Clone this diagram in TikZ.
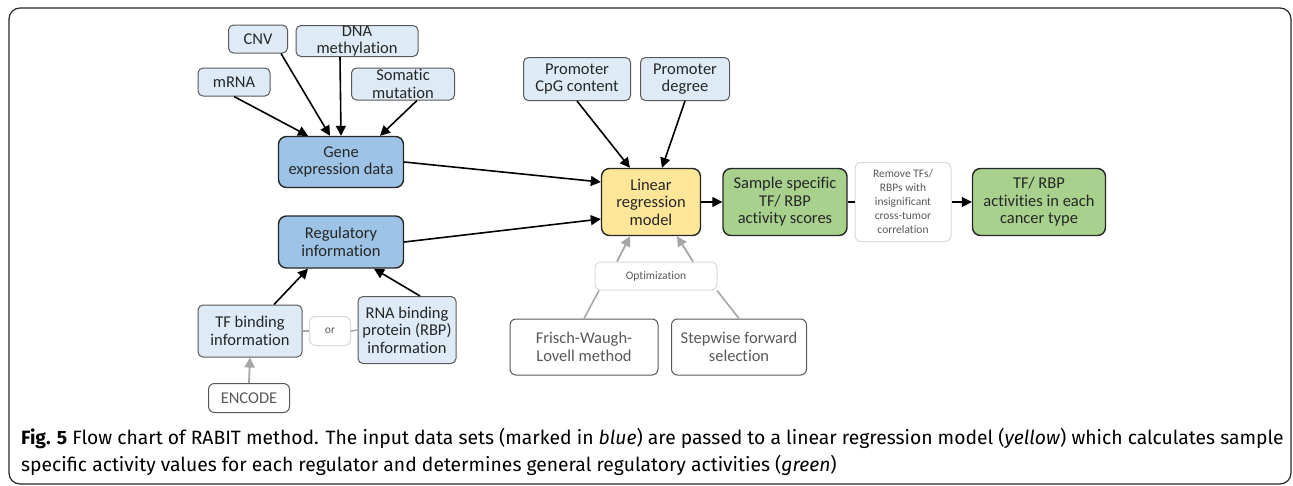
\documentclass[tikz,border=0pt]{standalone}
\usepackage{fontspec}
\setmainfont[Ligatures={NoCommon,TeX}]{Carlito}
\newfontfamily\captionfont{Fira Sans}
\usetikzlibrary{arrows.meta,calc}

\definecolor{edgedark}{HTML}{262626}
\definecolor{edgemid}{HTML}{595959}
\definecolor{edgefaint}{HTML}{D9D9D9}
\definecolor{txtdark}{HTML}{262626}
\definecolor{txtgrey}{HTML}{595959}
\definecolor{fillpale}{HTML}{DEEBF7}
\definecolor{fillblue}{HTML}{9DC3E6}
\definecolor{fillyellow}{HTML}{FFE699}
\definecolor{fillgreen}{HTML}{A9D18E}
\definecolor{greyarrow}{HTML}{A6A6A6}

\tikzset{
  boxbase/.style={rectangle, align=center, inner sep=0pt,
    font=\fontsize{16.5}{17.5}\selectfont, text=txtdark},
  inputbox/.style={boxbase, draw=edgemid, fill=fillpale, line width=1pt,
    rounded corners=5pt},
  databox/.style={boxbase, draw=edgedark, fill=fillblue, line width=1.4pt,
    rounded corners=8pt},
  modelbox/.style={boxbase, draw=edgedark, fill=fillyellow, line width=1.4pt,
    rounded corners=8pt},
  resultbox/.style={boxbase, draw=edgedark, fill=fillgreen, line width=1.4pt,
    rounded corners=8pt},
  methodbox/.style={boxbase, draw=edgemid, fill=white, line width=1pt,
    rounded corners=6pt, text=txtgrey},
  notebox/.style={rectangle, align=center, inner sep=0pt, draw=edgefaint,
    fill=white, line width=1pt, rounded corners=6pt, text=txtgrey,
    font=\fontsize{11.5}{14}\selectfont},
  flow/.style={line width=1.6pt, draw=black,
    -{Triangle[length=10pt,width=10pt]}},
  softflow/.style={line width=1.8pt, draw=greyarrow,
    -{Triangle[length=10pt,width=10pt]}},
  softlink/.style={line width=1.6pt, draw=greyarrow},
  link/.style={line width=1.6pt, draw=black},
  captionline/.style={anchor=base west, inner sep=0pt,
    font=\captionfont\fontsize{19.3}{22}\selectfont, text=black},
}

\begin{document}
\begin{tikzpicture}[x=1pt,y=-1pt]
\useasboundingbox (0,0) rectangle (1293,485);

% outer frame
\draw[line width=1.2pt, draw=edgedark, rounded corners=11pt]
  (9,8) rectangle (1291,484);

% input data
\node[inputbox, minimum width=72pt, minimum height=28pt] (mrna) at (234,82) {mRNA};
\node[inputbox, minimum width=59pt, minimum height=28pt] (cnv) at (258,39) {CNV};
\node[inputbox, minimum width=122pt, minimum height=31pt] (dna) at (357,41) {DNA\\methylation};
\node[inputbox, minimum width=103pt, minimum height=32pt] (soma) at (403,84) {Somatic\\mutation};

\node[databox, minimum width=125pt, minimum height=51pt] (gene) at (341,162) {Gene\\expression data};
\node[databox, minimum width=125pt, minimum height=52pt] (reg) at (341,242) {Regulatory\\information};

\node[inputbox, minimum width=104pt, minimum height=52pt] (tfb) at (250,331) {TF binding\\information};
\node[notebox, minimum width=41pt, minimum height=29pt] (or) at (330,331) {or};
\node[inputbox, minimum width=98pt, minimum height=67pt] (rbp) at (407,330) {RNA binding\\protein (RBP)\\information};
\node[methodbox, minimum width=81pt, minimum height=29pt] (encode) at (249,398) {ENCODE};

% promoter features
\node[inputbox, minimum width=107pt, minimum height=43pt] (cpg) at (577,79) {Promoter\\CpG content};
\node[inputbox, minimum width=89pt, minimum height=43pt] (pdeg) at (685,79) {Promoter\\degree};

% model and results
\node[modelbox, minimum width=99pt, minimum height=67pt] (lin) at (651,202) {Linear\\regression\\model};
\node[resultbox, minimum width=124pt, minimum height=67pt] (sample) at (785,202) {Sample specific\\TF/ RBP\\activity scores};
\node[notebox, minimum width=96pt, minimum height=79pt] (filter) at (903,202) {Remove TFs/\\RBPs with\\insignificant\\cross-tumor\\correlation};
\node[resultbox, minimum width=133pt, minimum height=67pt] (act) at (1039,202) {TF/ RBP\\activities in each\\cancer type};

% optimisation
\node[notebox, minimum width=122pt, minimum height=28pt] (opt) at (656,276) {Optimization};
\node[methodbox, minimum width=148pt, minimum height=56pt] (fwl) at (584,347) {Frisch-Waugh-\\Lovell method};
\node[methodbox, minimum width=135pt, minimum height=56pt] (step) at (739,347) {Stepwise forward\\selection};

% connectors into gene expression data
\draw[flow] (mrna.south) -- ([xshift=-33pt]gene.north);
\draw[flow] ([xshift=23pt]cnv.south) -- ([xshift=-11pt]gene.north);
\draw[flow] ([xshift=-17pt]dna.south) -- (gene.north);
\draw[flow] ([xshift=14pt]soma.south) -- ([xshift=39pt]gene.north);

% connectors into regulatory information
\draw[flow] ([xshift=24pt]tfb.north) -- ([xshift=-33pt]reg.south);
\draw[flow] ([xshift=13pt]rbp.north) -- ([xshift=33pt]reg.south);
\draw[softlink] (tfb.east) -- (or.west);
\draw[softlink] (or.east) -- (rbp.west);
\draw[softflow] (encode.north) -- (tfb.south);

% connectors into the model (canvas yshift: positive is up)
\draw[flow] (gene.east) -- ([yshift=20pt]lin.west);
\draw[flow] (reg.east) -- ([yshift=-17pt]lin.west);
\draw[flow] (cpg.south) -- ([xshift=-21pt]lin.north);
\draw[flow] (pdeg.south) -- ([xshift=11pt]lin.north);

% optimisation connectors
\draw[softflow] ([xshift=-39pt]opt.north) -- ([xshift=-21pt]lin.south);
\draw[softflow] ([xshift=37pt]opt.north) -- ([xshift=26pt]lin.south);
\draw[softlink] (fwl.north) -- ([xshift=-57pt]opt.south);
\draw[softlink] (step.north) -- ([xshift=61pt]opt.south);

% result chain
\draw[flow] (lin.east) -- (sample.west);
\draw[link] (sample.east) -- (filter.west);
\draw[flow] (filter.east) -- (act.west);

% caption
\node[captionline] (cap1) at (21,444) {\textbf{Fig. 5} Flow chart of RABIT method. The input data sets (marked in \textit{blue}) are passed to a linear regression model (\textit{yellow}) which calculates sample};
\node[captionline] (cap2) at (21,471) {specific activity values for each regulator and determines general regulatory activities (\textit{green})};
\end{tikzpicture}
\end{document}
